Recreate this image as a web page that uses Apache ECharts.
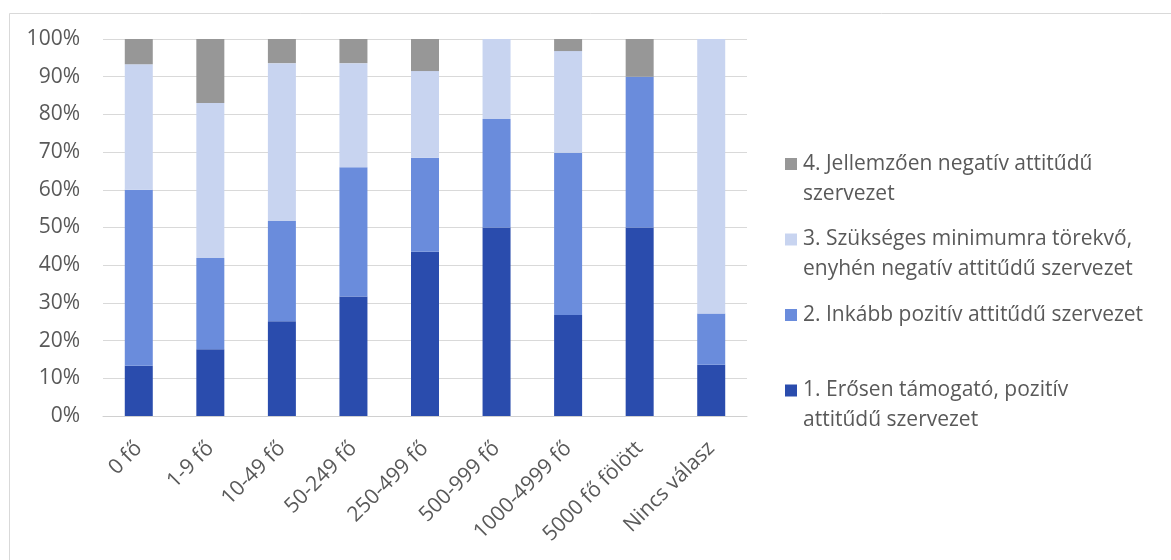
<!DOCTYPE html>
<html>
<head>
<meta charset="utf-8">
<script src="https://cdn.jsdelivr.net/npm/echarts@6/dist/echarts.min.js"></script>
<style>
html,body{margin:0;padding:0;background:#fff;}
#chart{width:1171px;height:560px;}
</style>
</head>
<body>
<div id="chart"></div>
<script>
const categories = ['0 fő','1-9 fő','10-49 fő','50-249 fő','250-499 fő','500-999 fő','1000-4999 fő','5000 fő fölött','Nincs válasz'];
const seriesNames = [
  '1. Erősen támogató, pozitív attitűdű szervezet',
  '2. Inkább pozitív attitűdű szervezet',
  '3. Szükséges minimumra törekvő, enyhén negatív attitűdű szervezet',
  '4. Jellemzően negatív attitűdű szervezet'
];
const legendLines = [
  ['1. Erősen támogató, pozitív', 'attitűdű szervezet'],
  ['2. Inkább pozitív attitűdű szervezet', ' '],
  ['3. Szükséges minimumra törekvő,', 'enyhén negatív attitűdű szervezet'],
  ['4. Jellemzően negatív attitűdű', 'szervezet']
];
const strong   = [13.3, 17.7, 25.1, 31.7, 43.6, 50.0, 26.8, 50.0, 13.6];
const rather   = [46.7, 24.2, 26.6, 34.3, 24.9, 28.8, 43.0, 40.0, 13.6];
const minimum  = [33.3, 41.1, 41.9, 27.6, 23.0, 21.2, 27.0, 0.0, 72.8];
const negative = [6.7, 17.0, 6.4, 6.4, 8.5, 0.0, 3.2, 10.0, 0.0];
const yTicks = [0,10,20,30,40,50,60,70,80,90,100];

const colors = ['#2a4cad', '#6a8cdc', '#c8d4f0', '#979797'];
const values = [strong, rather, minimum, negative];
const font = "'Open Sans', 'Noto Sans', sans-serif";
const textColor = '#595959';
const fs = 21;

const chart = echarts.init(document.getElementById('chart'));

const series = seriesNames.map((n, i) => ({
  name: n,
  type: 'bar',
  stack: 'total',
  barWidth: 28,
  data: values[i],
  itemStyle: { color: colors[i] },
  emphasis: { disabled: true }
}));

// legend entries, top to bottom: 4, 3, 2, 1
const legendTops = [119, 194.5, 270, 345.5];
const legends = [3, 2, 1, 0].map((idx, k) => ({
  data: [seriesNames[idx]],
  left: 785,
  top: legendTops[k],
  orient: 'vertical',
  icon: 'rect',
  itemWidth: 12,
  itemHeight: 12,
  itemGap: 0,
  padding: 0,
  selectedMode: false,
  formatter: () => '\n' + legendLines[idx].join('\n'),
  textStyle: { fontFamily: font, fontSize: fs, color: textColor, lineHeight: 30, padding: [0, 0, 0, 1] }
}));

chart.setOption({
  animation: false,
  backgroundColor: '#ffffff',
  textStyle: { fontFamily: font },
  graphic: [{
    type: 'rect',
    left: 7, top: 11,
    shape: { width: 1200, height: 600 },
    style: { fill: 'none', stroke: '#d9d9d9', lineWidth: 1 },
    silent: true
  }],
  legend: legends,
  grid: { left: 103, right: 424, top: 39, bottom: 144, containLabel: false },
  xAxis: {
    type: 'category',
    data: categories,
    axisTick: { show: false },
    axisLine: { lineStyle: { color: '#d0d0d0' } },
    axisLabel: { rotate: 45, color: textColor, fontSize: fs, fontFamily: font, margin: 29, interval: 0 }
  },
  yAxis: {
    type: 'value',
    min: 0, max: 100, interval: 10,
    axisLabel: { formatter: v => v + '%', color: textColor, fontSize: fs, fontFamily: font, margin: 23 },
    splitLine: { lineStyle: { color: '#d9d9d9' } },
    axisLine: { show: false },
    axisTick: { show: false }
  },
  series: series
});
</script>
</body>
</html>
